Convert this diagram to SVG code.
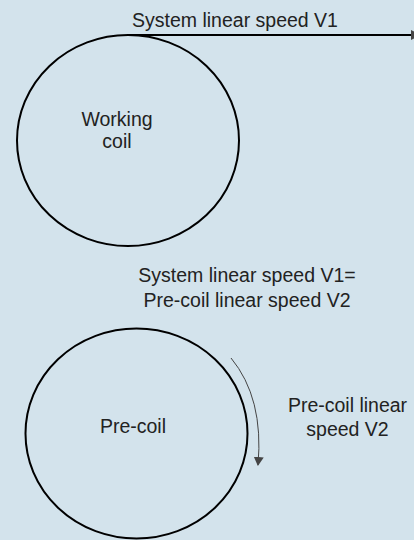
<svg xmlns="http://www.w3.org/2000/svg" width="414" height="540" viewBox="0 0 414 540">
<style>
.coil{fill:none;stroke:#000;stroke-width:2}
.lbl{font-family:"Liberation Sans",Arial,sans-serif;font-size:19.5px;fill:#222;text-anchor:middle}
</style>
<defs>
<marker id="ah" markerWidth="10" markerHeight="10" refX="8" refY="5" orient="auto" markerUnits="userSpaceOnUse">
<path d="M0,0 L9,5 L0,10 z" fill="#444"/>
</marker>
<marker id="ah2" markerWidth="12" markerHeight="12" refX="9" refY="6" orient="auto" markerUnits="userSpaceOnUse">
<path d="M0,1 L10,6 L0,11 z" fill="#444"/>
</marker>
</defs>
<rect width="414" height="540" fill="#d3e3ec"/>
<g id="connectors">
<line x1="127" y1="35" x2="420" y2="35" stroke="#000" stroke-width="2" marker-end="url(#ah2)"/>
<path d="M231,358 Q264,398 258,465" fill="none" stroke="#444" stroke-width="1" marker-end="url(#ah)"/>
</g>
<g id="working-coil">
<ellipse class="coil" cx="128" cy="140.5" rx="111" ry="105.5"/>
<text class="lbl" x="117" y="126">Working</text>
<text class="lbl" x="117" y="148">coil</text>
</g>
<g id="pre-coil">
<ellipse class="coil" cx="136.5" cy="433.5" rx="111" ry="105"/>
<text class="lbl" x="133" y="433">Pre-coil</text>
</g>
<g id="labels">
<text class="lbl" x="235" y="27">System linear speed V1</text>
<text class="lbl" x="247" y="282">System linear speed V1=</text>
<text class="lbl" x="247" y="307">Pre-coil linear speed V2</text>
<text class="lbl" x="347.5" y="412">Pre-coil linear</text>
<text class="lbl" x="347.5" y="436">speed V2</text>
</g>
</svg>
